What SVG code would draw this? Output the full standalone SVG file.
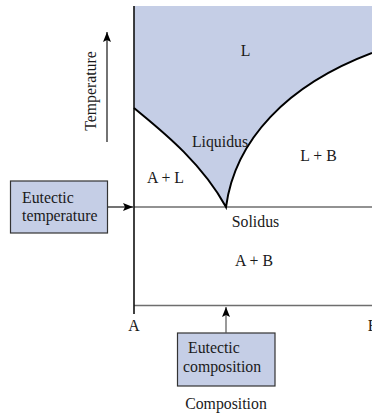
<svg xmlns="http://www.w3.org/2000/svg" width="372" height="417" viewBox="0 0 372 417">
<style>
text{font-family:"Liberation Serif","Times New Roman",serif;font-size:15.8px;fill:#1a1a1a}
.c{text-anchor:middle}
.box{fill:#c5cee6;stroke:#333;stroke-width:1.2}
.curve{fill:none;stroke:#000;stroke-width:2}
.ln{stroke:#000;stroke-width:1.1;fill:none}
.grey{stroke:#6e6e6e;stroke-width:1.6;fill:none}
</style>
<defs>
<marker id="ah" viewBox="0 0 10 8" refX="10" refY="4" markerWidth="10" markerHeight="8" markerUnits="userSpaceOnUse" orient="auto">
<path d="M0,0 L10,4 L0,8 L2,4 Z" fill="#000"/>
</marker>
</defs>
<g id="liquid-region">
<path d="M134,6 H372 V53 C287,85 235,140 226,207 C200,160 158,128 134,108 Z" fill="#c5cee6"/>
</g>
<g id="axes">
<line class="grey" x1="134" y1="207" x2="372" y2="207"/>
<line class="grey" x1="134" y1="305.5" x2="372" y2="305.5"/>
<line x1="134" y1="6" x2="134" y2="314" stroke="#111" stroke-width="1.6"/>
</g>
<g id="liquidus">
<path class="curve" d="M134,108 C158,128 200,160 226,207 C235,140 287,85 372,53"/>
</g>
<g id="labels">
<text class="c" x="245.5" y="56">L</text>
<text class="c" x="220" y="147">Liquidus</text>
<text class="c" x="318.5" y="161">L + B</text>
<text class="c" x="165.5" y="183">A + L</text>
<text class="c" x="255.5" y="226.5">Solidus</text>
<text class="c" x="254" y="265.5">A + B</text>
<text class="c" x="134" y="331">A</text>
<text class="c" x="373" y="331">B</text>
<text class="c" x="226" y="409">Composition</text>
</g>
<g id="temperature-axis">
<line class="ln" x1="107" y1="142" x2="107" y2="32" marker-end="url(#ah)"/>
<text class="c" transform="translate(96,91) rotate(-90)">Temperature</text>
</g>
<g id="eutectic-temperature">
<rect class="box" x="10.5" y="181" width="97" height="52"/>
<text x="22" y="203">Eutectic</text>
<text x="22" y="221">temperature</text>
</g>
<g id="eutectic-composition">
<rect class="box" x="177.5" y="333" width="97.5" height="53"/>
<text x="188" y="353">Eutectic</text>
<text x="183" y="372">composition</text>
</g>
<g id="connectors">
<line class="ln" x1="108" y1="207" x2="133" y2="207" marker-end="url(#ah)"/>
<line x1="226" y1="333" x2="226" y2="307" stroke="#555" stroke-width="1.2" marker-end="url(#ah)"/>
</g>
</svg>
